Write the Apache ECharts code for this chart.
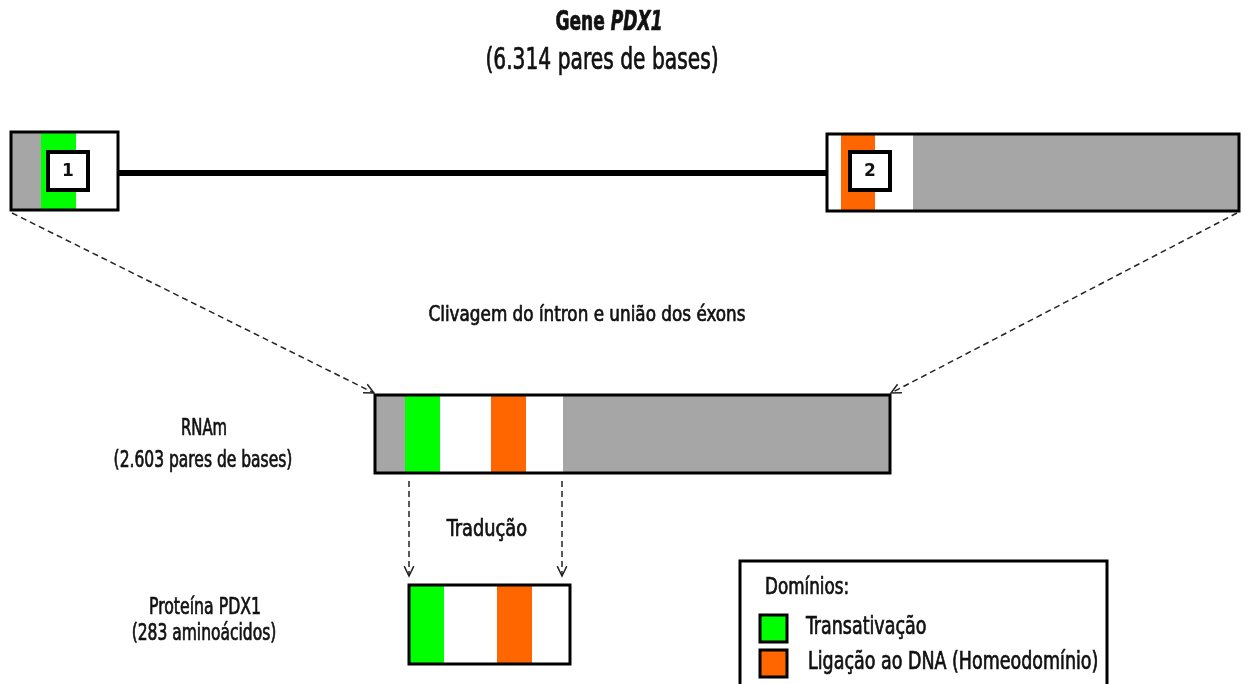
<!DOCTYPE html>
<html>
<head>
<meta charset="utf-8">
<script src="https://cdn.jsdelivr.net/npm/echarts@6/dist/echarts.min.js"></script>
<style>
html, body { margin: 0; padding: 0; background: #fff; }
#main { width: 1245px; height: 684px; }
</style>
</head>
<body>
<div id="main"></div>
<script>
var FONT = '"DejaVu Sans Condensed", "DejaVu Sans", sans-serif'

// region types -> colour
var regionColors = { utr: '#a6a6a6', trans: '#00ff00', homeo: '#ff6600', cds: '#ffffff' }

// segments of each track: [start, end, type]
var exon1 = [[11, 41, 'utr'], [41, 76, 'trans'], [76, 118, 'cds']]
var exon2 = [[827, 841, 'cds'], [841, 875, 'homeo'], [875, 913, 'cds'], [913, 1239, 'utr']]
var mrna = [[375, 405, 'utr'], [405, 440, 'trans'], [440, 491, 'cds'], [491, 526, 'homeo'], [526, 563, 'cds'], [563, 890, 'utr']]
var protein = [[409, 444, 'trans'], [444, 497, 'cds'], [497, 532, 'homeo'], [532, 570, 'cds']]

// vertical band of each track: [top, bottom]
var exon1Band = [132, 210]
var exon2Band = [134, 211]
var mrnaBand = [395, 473]
var proteinBand = [585, 664]

// intron line between the exons
var intron = [[118, 173], [827, 173]]

// exon number boxes: [x0, x1, y0, y1]
var exonNumbers = ['1', '2']
var exonNumberBoxes = [[48, 88, 152, 190], [850, 890, 152, 190]]

// dashed arrows: [from, to]
var arrows = [
    [[12, 213], [374, 393]],
    [[1237, 213], [891, 393]],
    [[409, 481], [409, 576]],
    [[562, 481], [562, 576]]
]

// texts
var titleGene = 'Gene '
var titleName = 'PDX1'
var titleSize = '(6.314 pares de bases)'
var splicingText = 'Clivagem do íntron e união dos éxons'
var translationText = 'Tradução'
var mrnaLabel = ['RNAm', '(2.603 pares de bases)']
var proteinLabel = ['Proteína PDX1', '(283 aminoácidos)']
var legendTitle = 'Domínios:'
var legendNames = ['Transativação', 'Ligação ao DNA (Homeodomínio)']
var legendTypes = ['trans', 'homeo']

// build flat block list
var blocks = []
function addTrack(segs, band) {
    segs.forEach(function (s) {
        blocks.push([s[0], s[1], band[0], band[1], s[2]])
    })
}
addTrack(exon1, exon1Band)
addTrack(exon2, exon2Band)
addTrack(mrna, mrnaBand)
addTrack(protein, proteinBand)

var outlines = [
    [exon1[0][0], exon1[exon1.length - 1][1], exon1Band[0], exon1Band[1]],
    [exon2[0][0], exon2[exon2.length - 1][1], exon2Band[0], exon2Band[1]],
    [mrna[0][0], mrna[mrna.length - 1][1], mrnaBand[0], mrnaBand[1]],
    [protein[0][0], protein[protein.length - 1][1], proteinBand[0], proteinBand[1]]
]

function rectFromValues(api, x0, x1, y0, y1) {
    var p0 = api.coord([x0, y0])
    var p1 = api.coord([x1, y1])
    return { x: p0[0], y: p0[1], width: p1[0] - p0[0], height: p1[1] - p0[1] }
}

// text squeezed horizontally (and slightly thickened) to mimic the condensed font of the original
function textEl(api, x, y, text, size, align, squeeze, extra) {
    var p = api.coord([x, y])
    var style = {
        text: text, x: 0, y: 0,
        fontFamily: FONT, fontSize: size,
        fill: '#111', stroke: '#111', lineWidth: 0.7,
        align: align || 'center', verticalAlign: 'middle'
    }
    if (extra) for (var k in extra) style[k] = extra[k]
    return { type: 'text', x: p[0], y: p[1], scaleX: squeeze || 1, style: style }
}

var chart = echarts.init(document.getElementById('main'))

var option = {
    animation: false,
    grid: { left: 0, right: 0, top: 0, bottom: 0 },
    xAxis: { type: 'value', min: 0, max: 1245, show: false },
    yAxis: { type: 'value', min: 0, max: 684, inverse: true, show: false },
    series: [
        {
            // intron
            type: 'line',
            data: intron,
            symbol: 'none',
            lineStyle: { color: '#000', width: 6 },
            z: 1
        },
        {
            // coloured blocks
            type: 'custom',
            data: blocks.map(function (b) { return [b[0], b[1], b[2], b[3]] }),
            renderItem: function (params, api) {
                var b = blocks[params.dataIndex]
                return {
                    type: 'rect',
                    shape: rectFromValues(api, b[0], b[1], b[2], b[3]),
                    style: { fill: regionColors[b[4]] }
                }
            },
            z: 2
        },
        {
            // black outlines
            type: 'custom',
            data: outlines,
            renderItem: function (params, api) {
                return {
                    type: 'rect',
                    shape: rectFromValues(api, api.value(0), api.value(1), api.value(2), api.value(3)),
                    style: { fill: 'none', stroke: '#000', lineWidth: 3 }
                }
            },
            z: 3
        },
        {
            // exon numbers
            type: 'custom',
            data: exonNumberBoxes,
            renderItem: function (params, api) {
                var b = exonNumberBoxes[params.dataIndex]
                var r = rectFromValues(api, b[0], b[1], b[2], b[3])
                return {
                    type: 'group',
                    children: [
                        { type: 'rect', shape: r, style: { fill: '#fff', stroke: '#000', lineWidth: 4 } },
                        textEl(api, (b[0] + b[1]) / 2, (b[2] + b[3]) / 2 + 1, exonNumbers[params.dataIndex], 17, 'center', 1,
                            { fontFamily: '"DejaVu Sans", sans-serif', fontWeight: 'bold', lineWidth: 0 })
                    ]
                }
            },
            z: 4
        },
        {
            // dashed arrows
            type: 'custom',
            data: arrows.map(function (a) { return [a[0][0], a[0][1], a[1][0], a[1][1]] }),
            renderItem: function (params, api) {
                var a = arrows[params.dataIndex]
                var p0 = api.coord(a[0])
                var p1 = api.coord(a[1])
                var ang = Math.atan2(p1[1] - p0[1], p1[0] - p0[0])
                var len = 11, spread = 0.45
                var h1 = [p1[0] - len * Math.cos(ang - spread), p1[1] - len * Math.sin(ang - spread)]
                var h2 = [p1[0] - len * Math.cos(ang + spread), p1[1] - len * Math.sin(ang + spread)]
                return {
                    type: 'group',
                    children: [
                        { type: 'line', shape: { x1: p0[0], y1: p0[1], x2: p1[0], y2: p1[1] },
                          style: { stroke: '#222', lineWidth: 1.5, lineDash: [6, 4] } },
                        { type: 'polyline', shape: { points: [h1, p1, h2] },
                          style: { stroke: '#222', lineWidth: 1.5, fill: 'none' } }
                    ]
                }
            },
            z: 5
        },
        {
            // legend
            type: 'custom',
            data: legendNames.map(function (n, i) { return [i] }),
            renderItem: function (params, api) {
                var i = params.dataIndex
                var y0 = 615 + i * 35
                var children = [
                    { type: 'rect', shape: rectFromValues(api, 760, 787, y0, y0 + 27), style: { fill: regionColors[legendTypes[i]], stroke: '#000', lineWidth: 3 } },
                    textEl(api, 806 + i * 2, y0 + 13, legendNames[i], 24, 'left', 0.81)
                ]
                if (i === 0) {
                    children.push({ type: 'rect', shape: rectFromValues(api, 740, 1107, 561, 700), style: { fill: 'none', stroke: '#000', lineWidth: 3 } })
                    children.push(textEl(api, 765, 588, legendTitle, 23, 'left', 0.81))
                }
                return { type: 'group', children: children }
            },
            z: 6
        },
        {
            // texts
            type: 'custom',
            data: [[0]],
            renderItem: function (params, api) {
                return {
                    type: 'group',
                    children: [
                        textEl(api, 609, 23, '{b|' + titleGene + '}{bi|' + titleName + '}', 26, 'center', 0.73, {
                            rich: {
                                b: { fontFamily: FONT, fontSize: 26, fontWeight: 'bold', fill: '#111' },
                                bi: { fontFamily: FONT, fontSize: 26, fontWeight: 'bold', fontStyle: 'italic', fill: '#111' }
                            }
                        }),
                        textEl(api, 602, 61, titleSize, 30, 'center', 0.75),
                        textEl(api, 587, 315, splicingText, 22, 'center', 0.85),
                        textEl(api, 487, 530, translationText, 23, 'center', 0.86),
                        textEl(api, 204, 429, mrnaLabel[0], 23, 'center', 0.72),
                        textEl(api, 203, 461, mrnaLabel[1], 23, 'center', 0.75),
                        textEl(api, 205, 608, proteinLabel[0], 23, 'center', 0.76),
                        textEl(api, 204, 634, proteinLabel[1], 23, 'center', 0.75)
                    ]
                }
            },
            z: 7
        }
    ]
}

chart.setOption(option)
</script>
</body>
</html>
